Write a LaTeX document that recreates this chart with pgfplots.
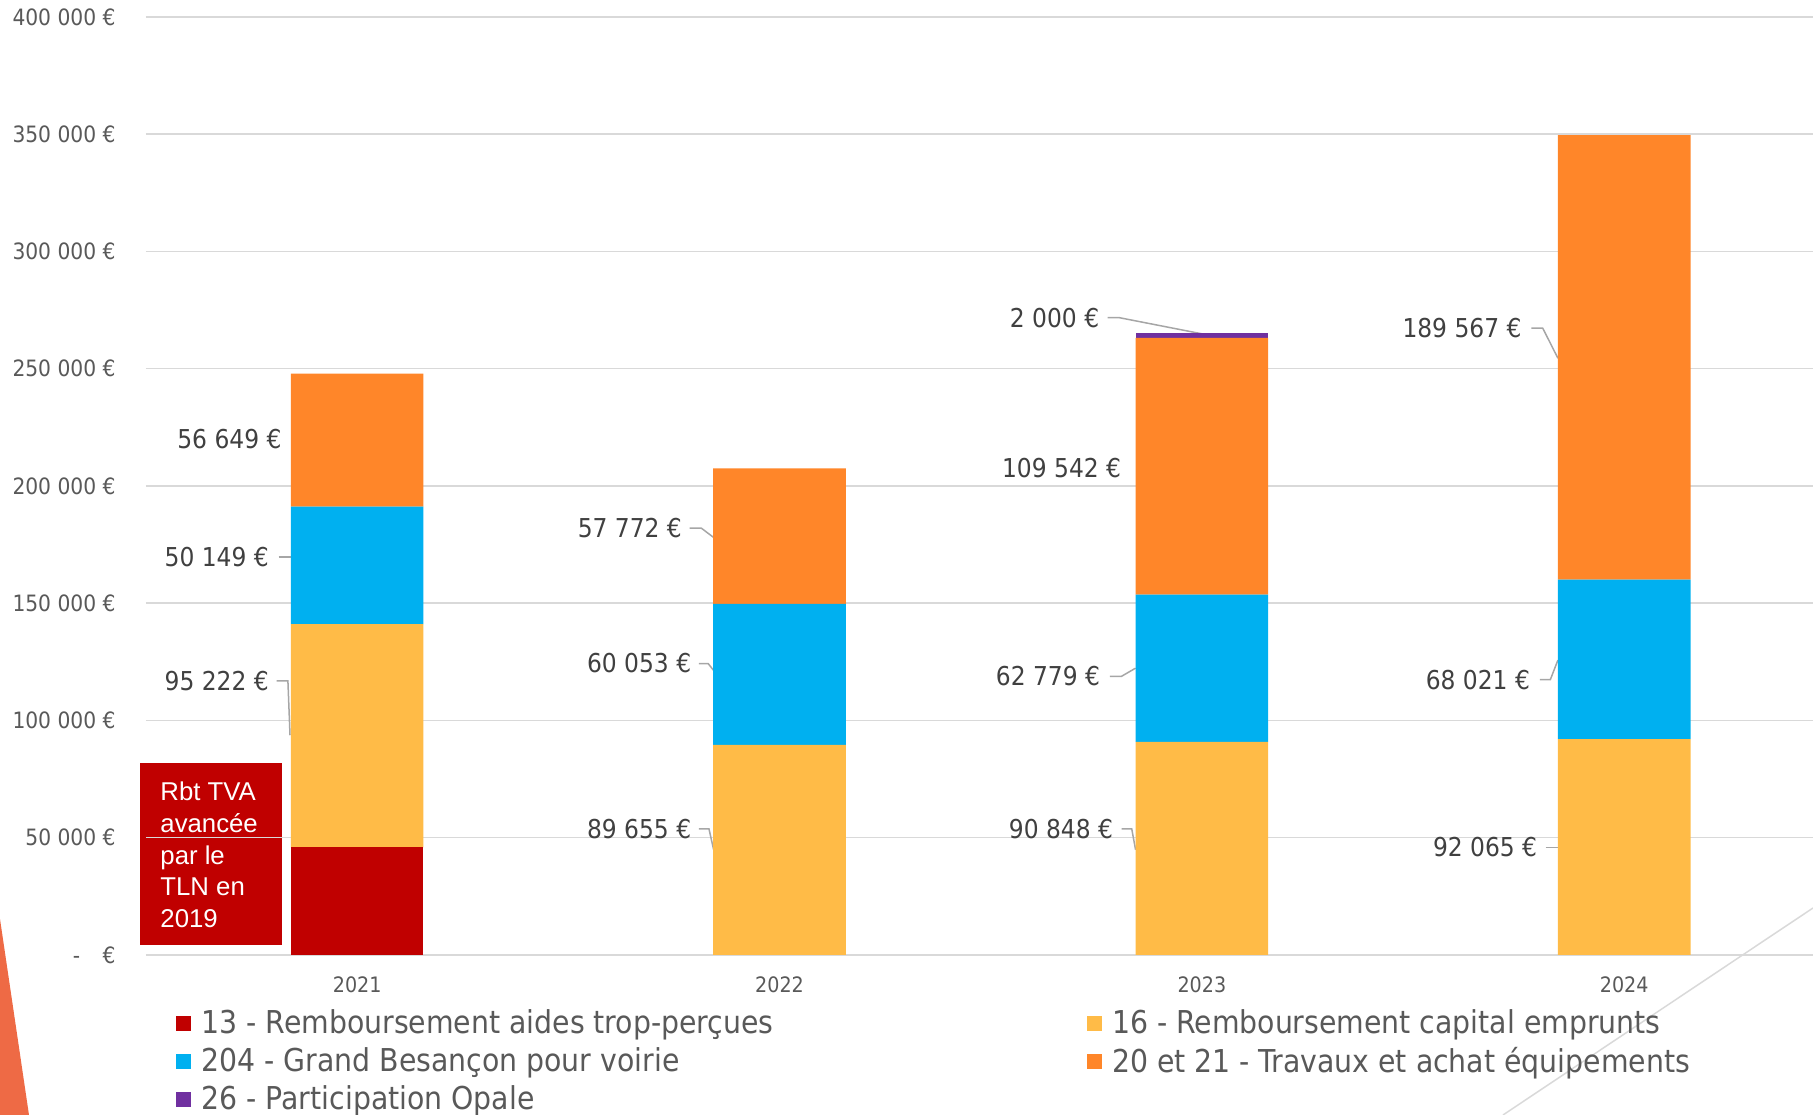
\documentclass[border=0pt]{standalone}
\usepackage{pgfplots}
\pgfplotsset{compat=1.18}
\usepackage{fontspec}
\setmainfont{DejaVu Sans Condensed}
\newfontfamily\arialfont{Liberation Sans}
\definecolor{c13}{HTML}{C00000}
\definecolor{c16}{HTML}{FFBB47}
\definecolor{c204}{HTML}{00B0F0}
\definecolor{c20}{HTML}{FF8629}
\definecolor{c26}{HTML}{7030A0}
\definecolor{gridc}{HTML}{D9D9D9}
\definecolor{tickc}{HTML}{595959}
\definecolor{labc}{HTML}{404040}
\definecolor{leadc}{HTML}{A6A6A6}
\definecolor{decor}{HTML}{EE6A45}
\tikzset{vlab/.style={anchor=east, inner sep=0pt, text=labc, font=\fontsize{10.4}{12}\selectfont},
  lead/.style={draw=leadc, line width=0.6pt}}
\begin{document}
\begin{tikzpicture}
\path[use as bounding box] (-58.4pt,-64pt) rectangle (666.8pt,382pt);
\fill[decor] (-58.4pt,14.4pt) -- (-46.8pt,-64pt) -- (-58.4pt,-64pt) -- cycle;
\draw[gridc, line width=0.6pt] (666.8pt,18.8pt) -- (542.8pt,-64pt);
\fill[c13] (-2.37pt,4.16pt) rectangle (54.4pt,76.8pt);
\begin{axis}[
  at={(0pt,0pt)}, anchor=south west,
  scale only axis, width=666.8pt, height=375.2pt,
  ybar stacked, bar width=0.314,
  xmin=-0.5, xmax=3.447, ymin=0, ymax=400000,
  axis line style={draw=none},
  ymajorgrids, grid style={gridc, line width=0.6pt},
  major tick length=0pt,
  ytick={0,50000,100000,150000,200000,250000,300000,350000,400000},
  yticklabels={{-{\hspace{9pt}}€},{50 000 €},{100 000 €},{150 000 €},{200 000 €},{250 000 €},{300 000 €},{350 000 €},{400 000 €}},
  xtick={0,1,2,3}, xticklabels={2021,2022,2023,2024},
  yticklabel style={text=tickc, font=\fontsize{9}{11}\selectfont, anchor=east, inner sep=0pt, xshift=-12pt},
  xticklabel style={text=tickc, font=\fontsize{8.5}{10}\selectfont, anchor=center, inner sep=0pt, yshift=-12pt},
  clip=false,
  legend columns=2,
  legend cell align=left,
  area legend,
  legend image post style={xscale=0.35, yscale=1.05, draw opacity=0},
  legend style={draw=none, fill=none, at={(0.013,-0.0467)}, anchor=north west,
    text=tickc, font=\fontsize{12.6}{14}\selectfont,
    /tikz/every odd column/.append style={column sep=2pt},
    /tikz/every even column/.append style={column sep=123pt}},
]
\addplot[fill=c13, draw=none] coordinates {(0,45850) (1,0) (2,0) (3,0)};
\addplot[fill=c16, draw=none] coordinates {(0,95222) (1,89655) (2,90848) (3,92065)};
\addplot[fill=c204, draw=none] coordinates {(0,50149) (1,60053) (2,62779) (3,68021)};
\addplot[fill=c20, draw=none] coordinates {(0,56649) (1,57772) (2,109542) (3,189567)};
\addplot[fill=c26, draw=none] coordinates {(0,0) (1,0) (2,2000) (3,0)};
\legend{13 - Remboursement aides trop-perçues, 16 - Remboursement capital emprunts, 204 - Grand Besançon pour voirie, 20 et 21 - Travaux et achat équipements, 26 - Participation Opale}

\node[anchor=north west, inner sep=0pt, align=left, text=white,
  font=\arialfont\fontsize{10.3}{12.7}\selectfont] at (axis cs:-0.467,73983)
  {Rbt TVA\\avancée\\par le\\TLN en\\2019};

\node[vlab] at (axis cs:-0.178,219975) {56 649 €};
\node[vlab] at (axis cs:-0.208,169667) {50 149 €};
\node[vlab] at (axis cs:-0.208,116893) {95 222 €};
\node[vlab] at (axis cs:0.770,182000) {57 772 €};
\node[vlab] at (axis cs:0.792,124291) {60 053 €};
\node[vlab] at (axis cs:0.792,53760) {89 655 €};
\node[vlab] at (axis cs:1.758,271763) {2 000 €};
\node[vlab] at (axis cs:1.810,207645) {109 542 €};
\node[vlab] at (axis cs:1.760,118866) {62 779 €};
\node[vlab] at (axis cs:1.791,53760) {90 848 €};
\node[vlab] at (axis cs:2.758,267324) {189 567 €};
\node[vlab] at (axis cs:2.778,117380) {68 021 €};
\node[vlab] at (axis cs:2.795,45869) {92 065 €};

\draw[lead] (axis cs:-0.186,169667) -- (axis cs:-0.156,169667);
\draw[lead] (axis cs:-0.191,116893) -- (axis cs:-0.164,116893) -- (axis cs:-0.159,93711);
\draw[lead] (axis cs:0.787,182000) -- (axis cs:0.815,182000) -- (axis cs:0.844,178052);
\draw[lead] (axis cs:0.809,124291) -- (axis cs:0.831,124291) -- (axis cs:0.844,121332);
\draw[lead] (axis cs:0.809,53760) -- (axis cs:0.833,53760) -- (axis cs:0.844,44883);
\draw[lead] (axis cs:1.777,271763) -- (axis cs:1.805,271763) -- (axis cs:2.001,264858);
\draw[lead] (axis cs:1.782,118866) -- (axis cs:1.810,118866) -- (axis cs:1.843,122318);
\draw[lead] (axis cs:1.810,53760) -- (axis cs:1.834,53760) -- (axis cs:1.843,44883);
\draw[lead] (axis cs:2.780,267324) -- (axis cs:2.807,267324) -- (axis cs:2.843,254500);
\draw[lead] (axis cs:2.800,117380) -- (axis cs:2.825,117380) -- (axis cs:2.843,125764);
\draw[lead] (axis cs:2.814,45869) -- (axis cs:2.843,45869);
\end{axis}
\end{tikzpicture}
\end{document}
